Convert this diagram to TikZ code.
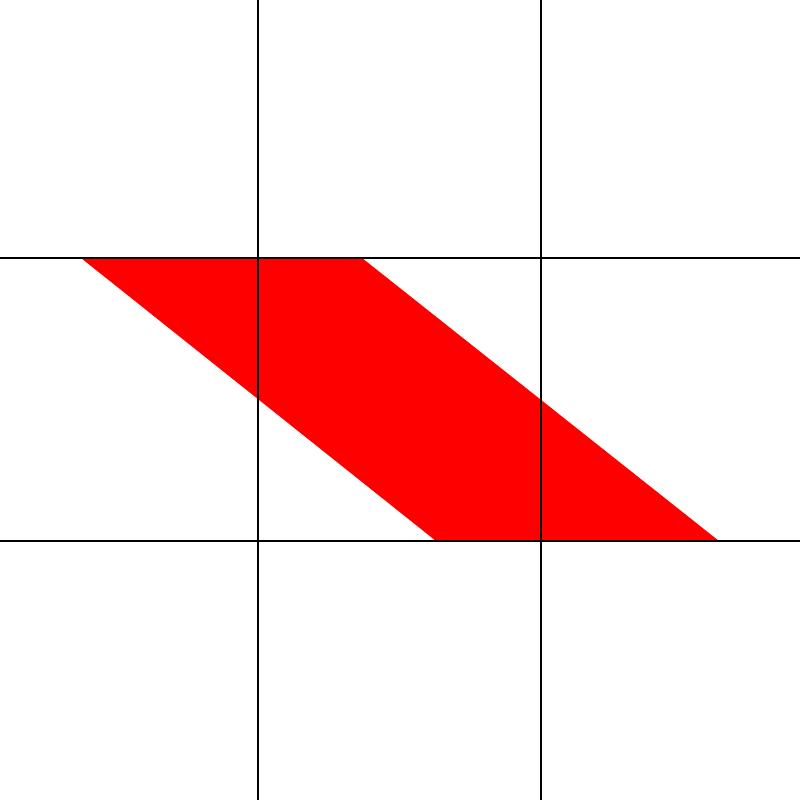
\documentclass[tikz,border=0pt]{standalone}
\begin{document}
\begin{tikzpicture}[x=0.01cm,y=-0.01cm,
  gridline/.style={draw=black,line width=0.3pt},
  band/.style={fill=red,draw=none}]
\useasboundingbox (0,0) rectangle (800,800);
\fill[white] (0,0) rectangle (800,800);
\path[band] (81,258) -- (362,258) -- (719,541) -- (436,541) -- cycle;
\draw[gridline] (258,0) -- (258,800);
\draw[gridline] (541,0) -- (541,800);
\draw[gridline] (0,258) -- (800,258);
\draw[gridline] (0,541) -- (800,541);
\end{tikzpicture}
\end{document}
